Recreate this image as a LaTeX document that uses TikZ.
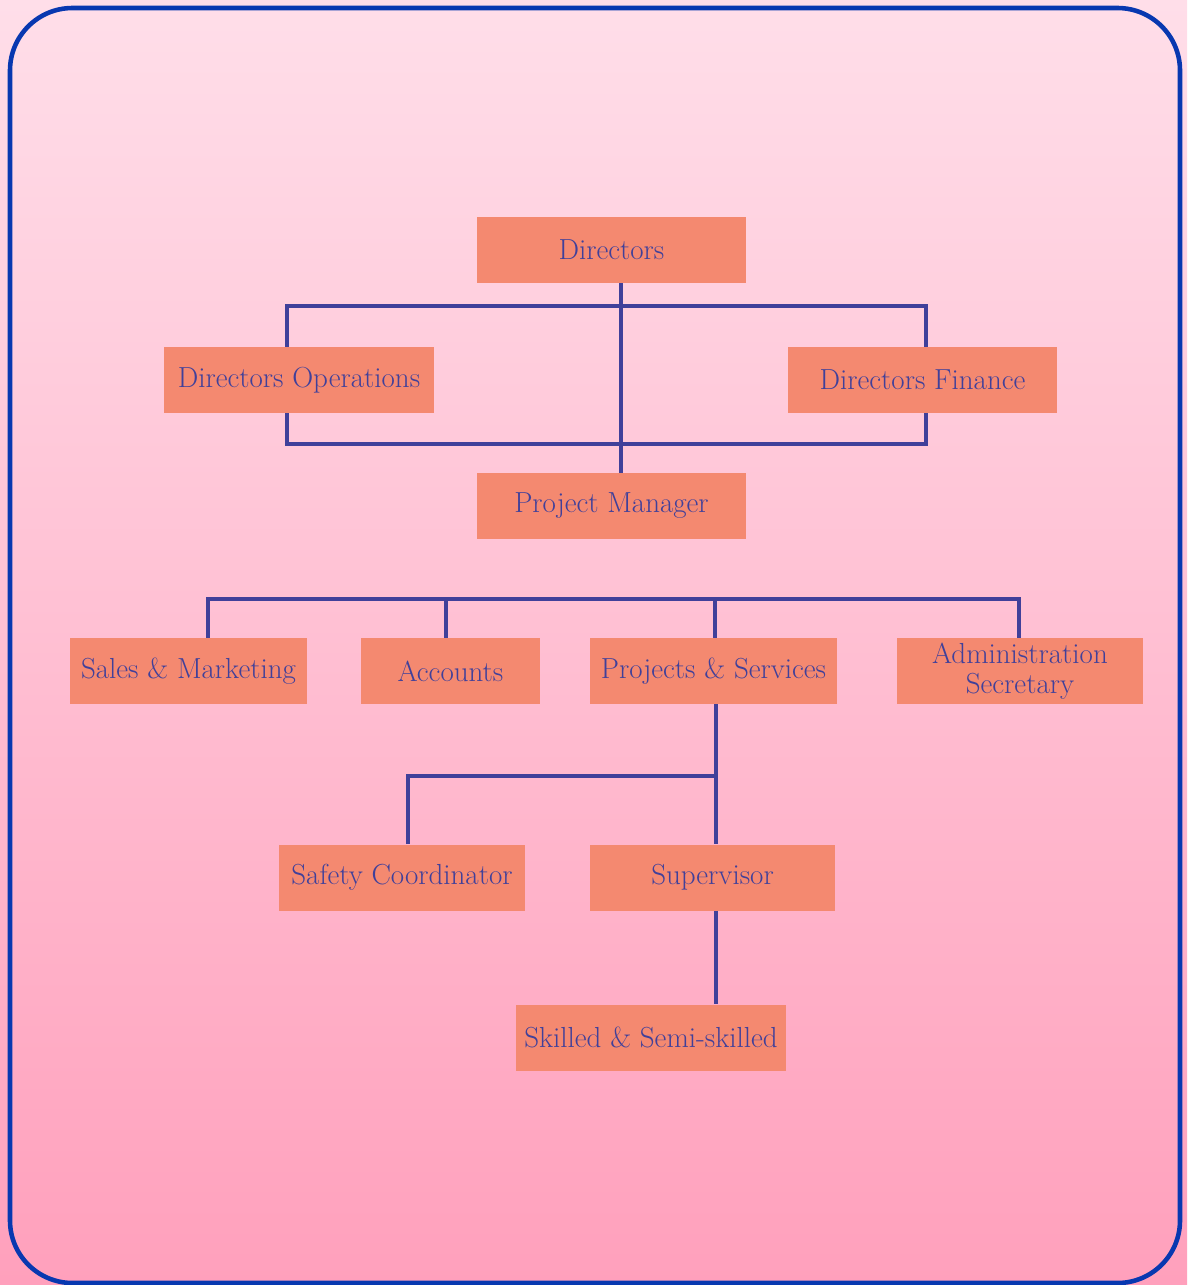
\documentclass[tikz,border=0pt]{standalone}
\usepackage{tikz}
\usetikzlibrary{calc}

\definecolor{framblue}{HTML}{0838B0}
\definecolor{linkblue}{HTML}{40409A}
\definecolor{boxsalmon}{HTML}{F48970}
\definecolor{bgtop}{HTML}{FFDEE9}
\definecolor{bgbottom}{HTML}{FFA0BC}

\tikzset{
  post/.style={fill=boxsalmon, text=linkblue, minimum height=1.32cm,
    inner sep=0pt, align=center, font=\fontsize{16.5}{17}\selectfont},
  link/.style={draw=linkblue, line width=2.1pt}
}

\begin{document}
\begin{tikzpicture}[x=0.02cm, y=-0.02cm]
	% background and frame
	\shade[top color=bgtop, bottom color=bgbottom] (0,0) rectangle (1187,1285);
	\useasboundingbox (0,0) rectangle (1187,1285);
	\draw[framblue, line width=2.6pt, rounded corners=1.25cm] (10,8) rectangle (1180,1283);

	% posts
	\node[post, minimum width=5.4cm] (dir) at (611.5,250) {Directors};
	\node[post, minimum width=5.4cm] (ops) at (299,380) {Directors Operations};
	\node[post, minimum width=5.4cm] (fin) at (922.5,380) {Directors Finance};
	\node[post, minimum width=5.4cm] (pm) at (611.5,506) {Project Manager};

	\node[post, minimum width=4.74cm] (sales) at (188.5,671) {Sales \& Marketing};
	\node[post, minimum width=3.58cm] (acc) at (450.5,671) {Accounts};
	\node[post, minimum width=4.94cm] (proj) at (713.5,671) {Projects \& Services};
	\node[post, minimum width=4.92cm] (admin) at (1020,671) {Administration\\Secretary};

	\node[post, minimum width=4.92cm] (safety) at (402,877.5) {Safety Coordinator};
	\node[post, minimum width=4.9cm] (sup) at (712.5,877.5) {Supervisor};
	\node[post, minimum width=5.4cm] (skill) at (651,1037.5) {Skilled \& Semi-skilled};

	% junction lines
	\coordinate (dx) at (621,0);
	\coordinate (ox) at (287,0);
	\coordinate (fx) at (926,0);
	\coordinate (px) at (716,0);

	\draw[link] (dir.south -| dx) -- (pm.north -| dx);
	\draw[link] (ops.north -| ox) -- (287,306) -- (926,306) -- (fin.north -| fx);
	\draw[link] (ops.south -| ox) -- (287,444) -- (926,444) -- (fin.south -| fx);

	\draw[link] (sales.north -| 208,0) -- (208,599) -- (1019,599) -- (admin.north -| 1019,0);
	\draw[link] (446,599) -- (acc.north -| 446,0);
	\draw[link] (715,599) -- (proj.north -| 715,0);

	\draw[link] (proj.south -| px) -- (sup.north -| px);
	\draw[link] (safety.north -| 408,0) -- (408,776) -- (716,776);
	\draw[link] (sup.south -| px) -- (skill.north -| px);
\end{tikzpicture}
\end{document}
